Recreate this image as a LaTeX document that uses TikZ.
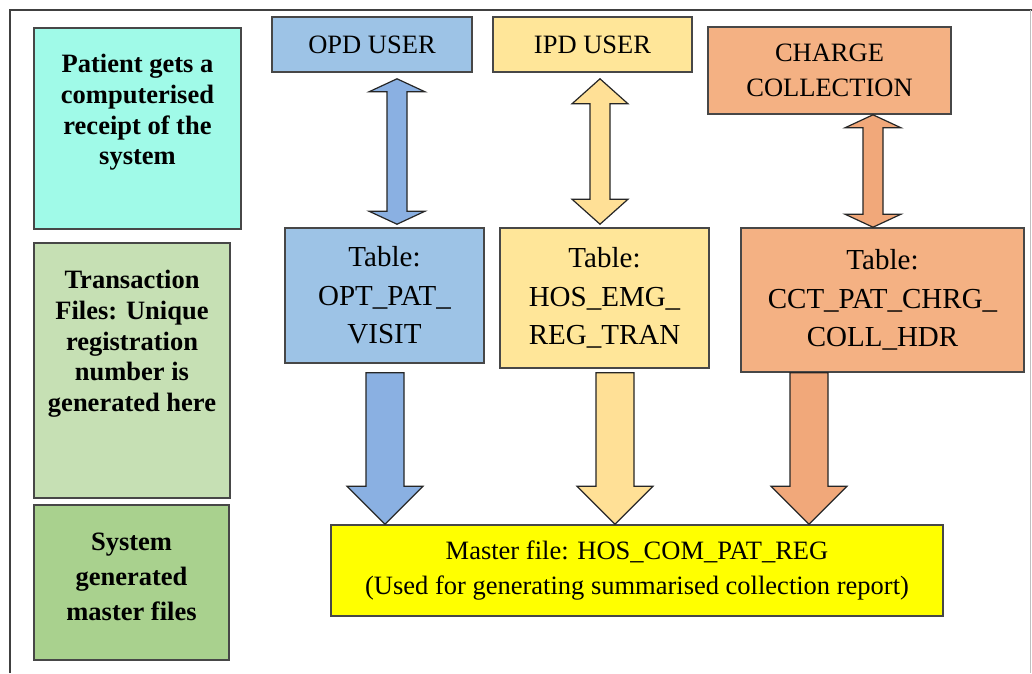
\documentclass[tikz,border=0pt]{standalone}
\usepackage{fontspec}
\setmainfont{Liberation Serif}
\usepackage{xcolor}
\usepackage{tikz}
\usetikzlibrary{positioning,calc}

\definecolor{patientcyan}{RGB}{160,250,232}
\definecolor{transgreen}{RGB}{198,224,180}
\definecolor{sysgreen}{RGB}{169,209,142}
\definecolor{opdblue}{RGB}{157,195,230}
\definecolor{arrowblue}{RGB}{138,176,226}
\definecolor{ipdyellow}{RGB}{255,230,153}
\definecolor{arrowyellow}{RGB}{255,224,150}
\definecolor{chargeorange}{RGB}{244,177,131}
\definecolor{arroworange}{RGB}{241,168,122}
\definecolor{masteryellow}{RGB}{255,255,0}

\tikzset{
    box/.style={draw=black!72, line width=1.6pt, inner sep=0pt},
    sidetext/.style={font=\fontsize{26.5}{30.7}\selectfont\bfseries, align=center, anchor=north, inner sep=0pt},
    usertext/.style={font=\fontsize{26.5}{35}\selectfont, align=center},
    tabletext/.style={font=\fontsize{29}{38.5}\selectfont, align=center},
    arrowline/.style={draw=black!85, line width=1.2pt, line join=miter}
}

\begin{document}
\begin{tikzpicture}[x=1pt, y=-1pt]
    \useasboundingbox (0,0) rectangle (1032,673);
    \fill[white] (0,0) rectangle (1032,673);

    % Frame
    \draw[black!75, line width=1.5pt] (10,673) -- (10,10) -- (1032,10);
    \draw[black!25, line width=1pt] (1030,10) -- (1030,673);

    % Left column
    \node[box, fill=patientcyan, minimum width=207pt, minimum height=201pt] (patient) at (137.5,128.5) {};
    \node[box, fill=transgreen, minimum width=196pt, minimum height=255pt] (trans) at (132,370.5) {};
    \node[box, fill=sysgreen, minimum width=195pt, minimum height=155pt] (sysgen) at (131.5,582.5) {};
    \node[sidetext, below=27pt of patient.north] (patienttext) {Patient gets a\\computerised\\receipt of the\\system};
    \node[sidetext, below=28pt of trans.north] (transtext) {Transaction\\Files: Unique\\registration\\number is\\generated here};
    \node[sidetext, below=29pt of sysgen.north, font=\fontsize{26.5}{35}\selectfont\bfseries] (systext) {System\\generated\\master files};

    % Users
    \node[box, usertext, fill=opdblue, minimum width=200pt, minimum height=55pt] (opd) at (372,44.5) {OPD USER};
    \node[box, usertext, fill=ipdyellow, minimum width=199pt, minimum height=55pt] (ipd) at (592.5,44.5) {IPD USER};
    \node[box, usertext, fill=chargeorange, minimum width=243pt, minimum height=87pt] (charge) at (829.5,70.5) {CHARGE\\COLLECTION};

    % Tables
    \node[box, tabletext, fill=opdblue, minimum width=199pt, minimum height=135pt] (opt) at (384.5,295.5) {Table:\\OPT\_PAT\_\\VISIT};
    \node[box, tabletext, fill=ipdyellow, minimum width=209pt, minimum height=140pt] (hos) at (604.5,298) {Table:\\HOS\_EMG\_\\REG\_TRAN};
    \node[box, tabletext, fill=chargeorange, minimum width=283pt, minimum height=144pt] (cct) at (882.5,300) {Table:\\CCT\_PAT\_CHRG\_\\COLL\_HDR};

    % Master file
    \node[box, usertext, fill=masteryellow, minimum width=612pt, minimum height=91pt] (master) at (637,570.5) {Master file: HOS\_COM\_PAT\_REG\\(Used for generating summarised collection report)};

    % Two-way arrows
    \foreach \up/\down/\ax/\hl/\g/\col in {opd/opt/397/13/6/arrowblue, ipd/hos/600/25/6/arrowyellow, charge/cct/873/13/0/arroworange} {
        \coordinate (ax) at (\ax,0);
        \draw[arrowline, fill=\col] ($(ax |- \up.south)+(0,\g)$) -- ++(28,\hl) -- ++(-18,0)
            -- ($(ax |- \down.north)+(10,-\hl-\g/2)$) -- ++(18,0) -- ($(ax |- \down.north)+(0,-\g/2)$)
            -- ++(-28,-\hl) -- ++(18,0) -- ($(ax |- \up.south)+(-10,\hl+\g)$) -- ++(-18,0) -- cycle;
    }

    % Down arrows
    \foreach \src/\ax/\g/\col in {opt/385/9/arrowblue, hos/615/4/arrowyellow, cct/809/0/arroworange} {
        \coordinate (ax) at (\ax,0);
        \draw[arrowline, fill=\col] ($(ax |- \src.south)+(-19,\g)$) -- ++(38,0)
            -- ($(ax |- master.north)+(19,-38)$) -- ++(19,0) -- (ax |- master.north)
            -- ++(-38,-38) -- ++(19,0) -- cycle;
    }
\end{tikzpicture}
\end{document}
